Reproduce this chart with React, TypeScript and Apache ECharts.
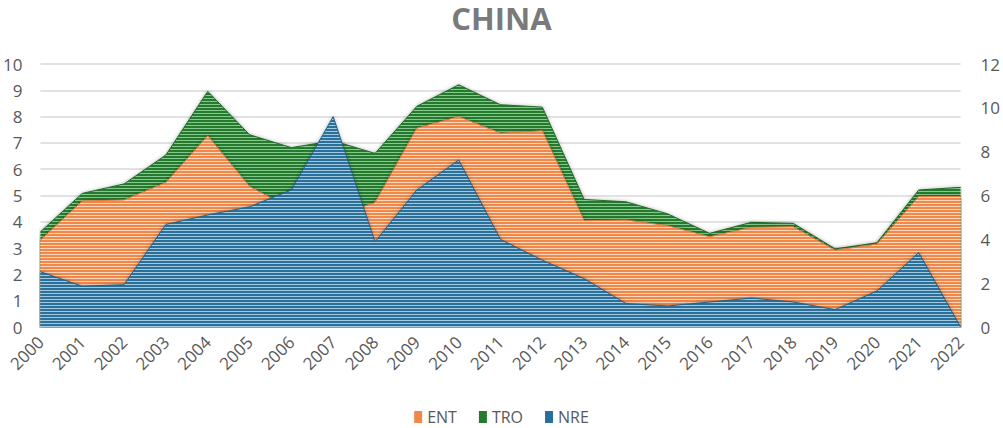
import React, { useEffect, useRef } from "react";
import * as echarts from "echarts";

const years = ["2000","2001","2002","2003","2004","2005","2006","2007","2008","2009","2010","2011","2012","2013","2014","2015","2016","2017","2018","2019","2020","2021","2022"];
const TRO = [3.62,5.08,5.44,6.54,8.96,7.31,6.82,7.08,6.6,8.39,9.21,8.45,8.36,4.85,4.76,4.3,3.56,3.98,3.94,2.97,3.2,5.21,5.31];
const ENT = [3.3,4.79,4.83,5.49,7.27,5.34,4.5,4.2,4.73,7.56,8.0,7.37,7.46,4.04,4.07,3.85,3.43,3.79,3.81,2.92,3.15,4.96,4.96];
const NRE = [2.1,1.55,1.61,3.9,4.26,4.57,5.21,8.0,3.24,5.21,6.35,3.33,2.54,1.84,0.89,0.8,0.95,1.1,0.95,0.66,1.37,2.83,0];
const leftTicks = { min: 0, max: 10, interval: 1 };
const rightTicks = { min: 0, max: 12, interval: 2 };

function stripe(base: string, light: string) {
  const c = document.createElement("canvas");
  c.width = 4;
  c.height = 3;
  const ctx = c.getContext("2d")!;
  ctx.fillStyle = base;
  ctx.fillRect(0, 0, 4, 3);
  ctx.fillStyle = light;
  ctx.fillRect(0, 2, 4, 1);
  return { image: c, repeat: "repeat" } as any;
}

export default function App() {
  const ref = useRef<HTMLDivElement>(null);
  useEffect(() => {
    document.body.style.margin = "0";
    const chart = echarts.init(ref.current!, undefined, { renderer: "svg" });
    const font = "'Open Sans', 'Noto Sans', sans-serif";
    const mk = (name: string, data: number[], base: string, light: string, edge: string, z: number) => ({
      name,
      type: "line",
      data,
      z,
      symbol: "none",
      showSymbol: false,
      itemStyle: { color: base },
      lineStyle: { width: 1, color: edge },
      areaStyle: {
        color: stripe(base, light),
        opacity: 1,
        shadowBlur: 4,
        shadowColor: "rgba(0,0,0,0.35)",
      },
      emphasis: { disabled: true },
    });
    chart.setOption({
      animation: false,
      title: {
        text: "CHINA",
        left: "center",
        top: 3,
        padding: 0,
        textStyle: { fontFamily: font, fontWeight: "bold", fontSize: 31, color: "#7a7a7a", lineHeight: 30 },
      },
      legend: {
        data: ["ENT", "TRO", "NRE"],
        bottom: 0,
        left: "center",
        padding: [0, 5, 2, 5],
        icon: "rect",
        itemWidth: 8,
        itemHeight: 12,
        itemGap: 22,
        textStyle: { fontFamily: font, fontSize: 16, color: "#595959", lineHeight: 18 },
      },
      grid: { left: 37, right: 39, top: 64, bottom: 101 },
      xAxis: {
        type: "category",
        data: years,
        boundaryGap: false,
        axisLine: { lineStyle: { color: "#bfbfbf", width: 2 } },
        axisTick: { show: false },
        axisLabel: { rotate: 45, fontFamily: font, fontSize: 17, color: "#595959", margin: 12, interval: 0 },
      },
      yAxis: [
        {
          type: "value",
          ...leftTicks,
          axisLine: { show: false },
          axisTick: { show: false },
          splitLine: { lineStyle: { color: "#d9d9d9", width: 1.5 } },
          axisLabel: { fontFamily: font, fontSize: 17, color: "#595959", margin: 18 },
        },
        {
          type: "value",
          ...rightTicks,
          position: "right",
          axisLine: { show: false },
          axisTick: { show: false },
          splitLine: { show: false },
          axisLabel: { fontFamily: font, fontSize: 17, color: "#595959", margin: 20 },
        },
      ],
      series: [
        mk("TRO", TRO, "#267a2e", "#86c98e", "#1f6a27", 1),
        mk("ENT", ENT, "#f0884a", "#fcd6bd", "#e07a3c", 2),
        mk("NRE", NRE, "#2a6f99", "#a3c9e0", "#245f85", 3),
      ],
    });
    return () => chart.dispose();
  }, []);
  return <div ref={ref} style={{ width: 1003, height: 428 }} />;
}
